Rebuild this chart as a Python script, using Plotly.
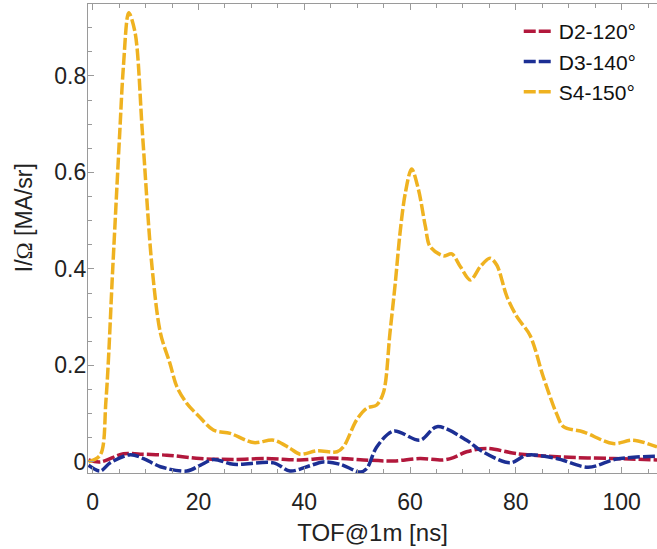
import plotly.graph_objects as go

# TOF traces
d2_x = [-0.8, 1.4, 5.8, 9.0, 14.0, 20.3, 26.6, 32.9, 39.2, 44.9, 51.2, 56.9, 61.9, 66.3, 68.2,
        70.7, 74.5, 80.2, 89.0, 98.4, 106.7]
d2_y = [0.004, 0.0, 0.017, 0.016, 0.014, 0.007, 0.005, 0.007, 0.004, 0.008, 0.004, 0.002, 0.007,
        0.004, 0.009, 0.021, 0.028, 0.017, 0.010, 0.007, 0.004]

d3_x = [-0.8, 1.4, 3.3, 7.1, 9.6, 12.8, 17.8, 20.3, 22.8, 26.6, 34.2, 37.3, 40.5, 43.6, 46.8,
        50.6, 51.8, 53.7, 56.9, 61.9, 65.1, 70.7, 73.3, 78.9, 82.1, 87.7, 93.7, 99.1, 106.7]
d3_y = [-0.007, -0.019, -0.002, 0.015, 0.007, -0.010, -0.019, -0.007, 0.005, -0.005, -0.002,
        -0.019, -0.010, 0.0, -0.005, -0.021, -0.014, 0.031, 0.064, 0.045, 0.073, 0.045, 0.024,
        -0.002, 0.014, 0.007, -0.011, 0.006, 0.012]

s4_x = [-0.8, 1.4, 2.5, 3.8, 5.1, 5.8, 6.8, 8.0, 9.4, 11.2, 12.8, 14.6, 15.9, 17.8, 20.2, 22.8,
        26.0, 30.4, 34.2, 37.3, 39.2, 42.4, 46.2, 47.4, 49.9, 51.8, 53.7, 55.0, 56.2, 57.2, 58.1,
        59.1, 60.3, 61.6, 62.9, 63.8, 66.3, 67.9, 69.5, 71.4, 73.3, 75.1, 76.4, 78.3, 80.2, 82.7,
        85.2, 87.7, 89.0, 92.8, 98.4, 102.2, 106.7]
s4_y = [0.0, 0.014, 0.128, 0.405, 0.682, 0.82, 0.931, 0.89, 0.68, 0.405, 0.267, 0.204, 0.156,
        0.121, 0.093, 0.066, 0.059, 0.040, 0.045, 0.028, 0.016, 0.023, 0.021, 0.031, 0.087, 0.111,
        0.118, 0.145, 0.267, 0.37, 0.474, 0.557, 0.607, 0.564, 0.488, 0.446, 0.427, 0.431, 0.405,
        0.377, 0.405, 0.422, 0.408, 0.343, 0.301, 0.262, 0.176, 0.100, 0.073, 0.062, 0.038,
        0.045, 0.031]

names = ["D2-120°", "D3-140°", "S4-150°"]
colors = ["#b2183c", "#1c2f94", "#efb220"]

x_ticks = [0, 20, 40, 60, 80, 100]
y_ticks = [0, 0.2, 0.4, 0.6, 0.8]
y_ticktext = ["0", "0.2", "0.4", "0.6", "0.8"]

font = "Liberation Sans, Arial, sans-serif"
axis_col = "#9a9a9a"

fig = go.Figure()
for xs, ys, name, col in zip([d2_x, d3_x, s4_x], [d2_y, d3_y, s4_y], names, colors):
    fig.add_trace(go.Scatter(x=xs, y=ys, name=name, mode="lines",
                             line=dict(color=col, width=3.5, dash="12px,3px",
                                       shape="spline", smoothing=0.9)))

fig.update_layout(
    width=657, height=549,
    margin=dict(l=88, r=0, t=4, b=76, autoexpand=False),
    paper_bgcolor="white", plot_bgcolor="white",
    font=dict(family=font, size=23, color="#222"),
    showlegend=True,
    legend=dict(x=0.757, y=0.985, xanchor="left", yanchor="top",
                bgcolor="rgba(0,0,0,0)", font=dict(size=21, color="#111"),
                tracegroupgap=0, itemwidth=30),
    annotations=[dict(text="I/<span style='font-family:Liberation Serif'>Ω</span> [MA/sr]",
                      xref="paper", yref="paper", x=-0.111, y=0.545,
                      xanchor="center", yanchor="middle",
                      textangle=-90, showarrow=False, font=dict(size=23, color="#222"))],
)
fig.update_xaxes(
    range=[-0.9, 106.7], tickvals=x_ticks, ticks="inside", ticklen=6, tickcolor=axis_col,
    showline=True, linecolor=axis_col, linewidth=1.2, mirror="allticks",
    showgrid=False, zeroline=False, automargin=False, ticklabelstandoff=8,
    minor=dict(dtick=5, tick0=0, ticks="inside", ticklen=4, tickcolor=axis_col),
    title=dict(text="TOF@1m [ns]", font=dict(size=24, color="#222"), standoff=10),
)
fig.update_yaxes(
    range=[-0.023, 0.949], tickvals=y_ticks, ticktext=y_ticktext, ticks="inside", ticklen=6,
    tickcolor=axis_col, showline=True, linecolor=axis_col, linewidth=1.2, mirror=False,
    showgrid=False, zeroline=False, ticklabelstandoff=-4, automargin=False,
    minor=dict(dtick=0.05, tick0=0, ticks="inside", ticklen=4, tickcolor=axis_col),
)

# the page body has a default 8px margin; drop it so the figure sits at the corner
fig.write_html("out.html", config={"displayModeBar": False},
               post_script="document.body.style.margin='0';")
